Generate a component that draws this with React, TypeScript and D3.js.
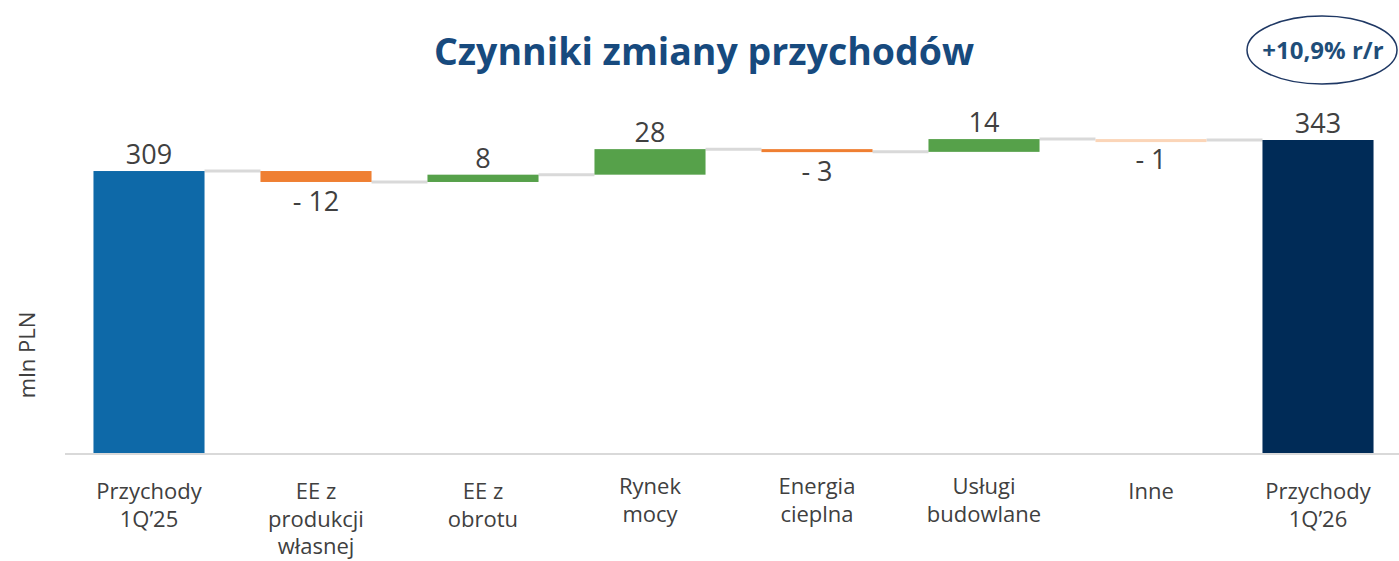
import * as d3 from 'd3';
import { useEffect, useRef } from 'react';

const categories = [
  ['Przychody', '1Q\u201925'],
  ['EE z', 'produkcji', 'własnej'],
  ['EE z', 'obrotu'],
  ['Rynek', 'mocy'],
  ['Energia', 'cieplna'],
  ['Usługi', 'budowlane'],
  ['Inne'],
  ['Przychody', '1Q\u201926'],
];
const values = [309, -12, 8, 28, -3, 14, -1, 343];
const kinds = ['total', 'delta', 'delta', 'delta', 'delta', 'delta', 'delta', 'total'];
const changeLabel = '+10,9% r/r';

export default function App() {
  const ref = useRef<SVGSVGElement | null>(null);

  useEffect(() => {
    if (!ref.current) return;
    const width = 1399;
    const font = "'Open Sans', 'Noto Sans', sans-serif";

    const svg = d3.select(ref.current);
    svg.selectAll('*').remove();

    // running totals -> [start, end] per bar
    let run = 0;
    const bars = values.map((v, i) => {
      let start: number, end: number;
      if (kinds[i] === 'total') {
        start = 0;
        end = v;
        run = v;
      } else {
        start = run;
        end = run + v;
        run = end;
      }
      return { i, v, start, end, kind: kinds[i] };
    });

    const x = d3
      .scaleBand<number>()
      .domain(d3.range(values.length))
      .range([65.5, 1401.5])
      .paddingInner(0.335)
      .paddingOuter(0.1675);

    const y = d3.scaleLinear().domain([0, 343]).range([453, 140]);

    /* title */
    svg
      .append('text')
      .attr('x', 704)
      .attr('y', 65)
      .attr('text-anchor', 'middle')
      .attr('font-family', font)
      .attr('font-weight', 700)
      .attr('font-size', 37.5)
      .attr('fill', '#174a7e')
      .text('Czynniki zmiany przychodów');

    /* r/r ellipse */
    svg
      .append('ellipse')
      .attr('cx', 1322)
      .attr('cy', 50)
      .attr('rx', 75)
      .attr('ry', 34)
      .attr('fill', 'none')
      .attr('stroke', '#1f3864')
      .attr('stroke-width', 1.5);
    svg
      .append('text')
      .attr('x', 1323)
      .attr('y', 59)
      .attr('text-anchor', 'middle')
      .attr('font-family', font)
      .attr('font-weight', 700)
      .attr('font-size', 24)
      .attr('fill', '#1f4e79')
      .text(changeLabel);

    /* y label */
    svg
      .append('text')
      .attr('transform', 'translate(35,355) rotate(-90)')
      .attr('text-anchor', 'middle')
      .attr('font-family', font)
      .attr('font-size', 22)
      .attr('fill', '#404040')
      .text('mln PLN');

    /* baseline */
    svg
      .append('line')
      .attr('x1', 65)
      .attr('x2', width)
      .attr('y1', y(0) + 1)
      .attr('y2', y(0) + 1)
      .attr('stroke', '#d9d9d9')
      .attr('stroke-width', 2);

    /* connectors */
    const g = svg.append('g');
    bars.slice(0, -1).forEach((b) => {
      g.append('line')
        .attr('x1', x(b.i)! + x.bandwidth())
        .attr('x2', x(b.i + 1)!)
        .attr('y1', y(b.end))
        .attr('y2', y(b.end))
        .attr('stroke', '#d9d9d9')
        .attr('stroke-width', 3);
    });

    const color = (b: any) => {
      if (b.kind === 'total') return b.i === 0 ? '#0e69a8' : '#002b57';
      if (b.v > 0) return '#56a14a';
      if (b.v === -1) return '#fbd5b8';
      return '#ef7f32';
    };

    g.selectAll('rect')
      .data(bars)
      .enter()
      .append('rect')
      .attr('x', (d) => x(d.i)!)
      .attr('width', x.bandwidth())
      .attr('y', (d) => y(Math.max(d.start, d.end)))
      .attr('height', (d) => Math.max(3, Math.abs(y(d.start) - y(d.end))))
      .attr('fill', color);

    /* value labels */
    g.selectAll('text.val')
      .data(bars)
      .enter()
      .append('text')
      .attr('class', 'val')
      .attr('x', (d) => x(d.i)! + x.bandwidth() / 2)
      .attr('y', (d) =>
        d.v >= 0 ? y(Math.max(d.start, d.end)) - 7 : y(Math.min(d.start, d.end)) + 29
      )
      .attr('text-anchor', 'middle')
      .attr('font-family', font)
      .attr('font-size', 27)
      .attr('fill', '#404040')
      .text((d) => (d.v < 0 ? `- ${Math.abs(d.v)}` : `${d.v}`));

    /* category labels */
    categories.forEach((lines, i) => {
      const t = svg
        .append('text')
        .attr('text-anchor', 'middle')
        .attr('font-family', font)
        .attr('font-size', 22)
        .attr('fill', '#404040');
      const top = lines.length === 2 && i > 2 && i < 7 ? 494 : 499;
      lines.forEach((l, k) => {
        t.append('tspan')
          .attr('x', x(i)! + x.bandwidth() / 2)
          .attr('y', top + k * 27.5)
          .text(l);
      });
    });
  }, []);

  return (
    <svg
      ref={ref}
      width={1399}
      height={561}
      style={{ position: 'absolute', left: 0, top: 0, background: '#fff' }}
    />
  );
}
